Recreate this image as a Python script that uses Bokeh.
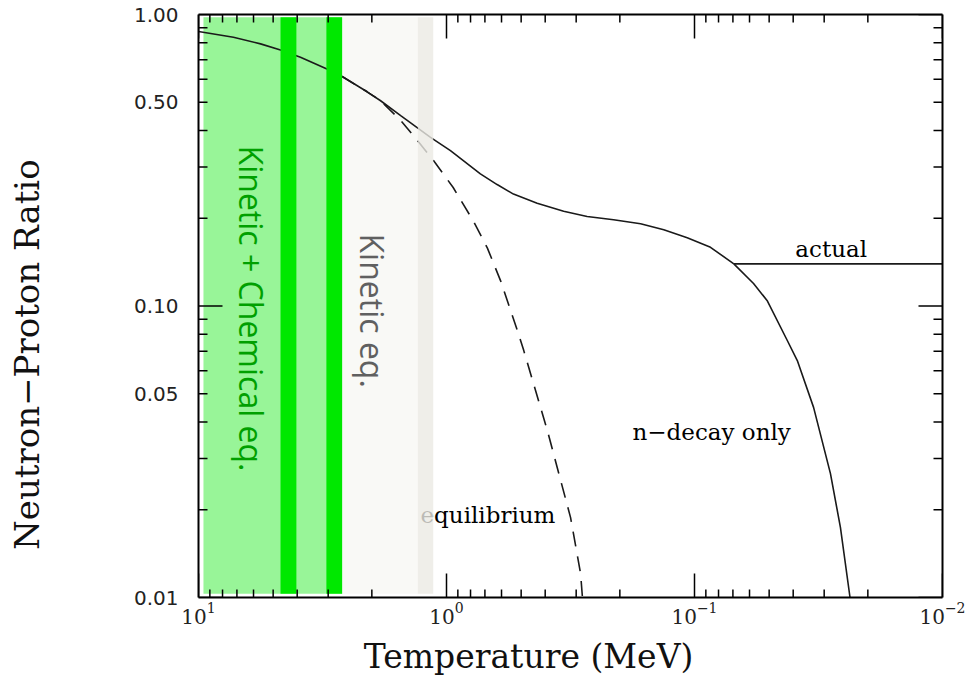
import numpy as np
from bokeh.plotting import figure
from bokeh.models import Range1d, LogAxis, FixedTicker, PrintfTickFormatter
from bokeh.embed import file_html
from bokeh.resources import INLINE
from bokeh.core.properties import value

# Temperature (MeV) and neutron-to-proton ratio
t_actual = [10.0, 7.23, 5.62, 4.67, 3.88, 3.05, 2.635, 2.09, 1.85, 1.53, 1.16, 0.964,
            0.73, 0.625, 0.537, 0.431, 0.337, 0.271, 0.212, 0.165, 0.133, 0.107,
            0.0862, 0.0694]
np_actual = [0.874, 0.836, 0.793, 0.756, 0.714, 0.651, 0.613, 0.543, 0.507, 0.450,
             0.379, 0.341, 0.284, 0.261, 0.242, 0.2253, 0.2114, 0.2028, 0.1976,
             0.1914, 0.1825, 0.1714, 0.159, 0.1395]

# frozen-out ratio after weak freeze-out
t_freeze = [0.0694, 0.01]
np_freeze = [0.1395, 0.1395]

# free neutron decay only
t_decay = [0.0694, 0.0578, 0.0508, 0.0422, 0.0385, 0.0331, 0.0283, 0.0258, 0.0236]
np_decay = [0.1395, 0.1195, 0.104, 0.076, 0.065, 0.0449, 0.0266, 0.0174, 0.01]

# equilibrium value
t_equil = [2.635, 2.09, 1.85, 1.53, 1.31, 1.13, 0.94, 0.78, 0.684, 0.605, 0.513,
           0.488, 0.392, 0.316, 0.288, 0.283]
np_equil = [0.613, 0.543, 0.507, 0.433, 0.37, 0.316, 0.255, 0.196, 0.158, 0.122,
            0.0805, 0.0703, 0.0374, 0.0188, 0.0121, 0.01]

# shaded temperature bands (MeV): (hot end, cool end)
chem_band = (9.55, 2.635)
chem_bars = [(4.67, 4.03), (3.05, 2.635)]
kin_band = (2.635, 1.305)
kin_edge = (1.305, 1.131)
band_bottom, band_top = 0.0103, 0.979

x_major = [10, 1, 0.1, 0.01]
y_major = [1.0, 0.5, 0.1, 0.05, 0.01]
y_decades = [1.0, 0.1, 0.01]
log_minor = [m * 10.0 ** k for k in (-2, -1, 0) for m in range(2, 10)]

W, H = 969, 679
BL, BR, BT, BB = 198, 27, 14, 82
x_lo, x_hi, y_lo, y_hi = 10.0, 0.01, 0.01, 1.0

p = figure(width=W, height=H, x_axis_type="log", y_axis_type="log",
           x_range=Range1d(x_lo, x_hi), y_range=Range1d(y_lo, y_hi),
           output_backend="svg", toolbar_location=None,
           min_border_left=BL, min_border_right=BR,
           min_border_top=BT, min_border_bottom=BB)
p.grid.visible = False
p.outline_line_color = None
p.background_fill_color = "white"
p.border_fill_color = "white"

# screen pixels per decade on each axis, used for tick lengths
px_dec_x = (W - BL - BR) / abs(np.log10(x_lo / x_hi))
px_dec_y = (H - BT - BB) / abs(np.log10(y_hi / y_lo))


def xf(px):
    return 10.0 ** (px / px_dec_x)


def yf(px):
    return 10.0 ** (px / px_dec_y)


# bands underneath the curves
p.quad(left=[chem_band[0]], right=[chem_band[1]], bottom=[band_bottom], top=[band_top],
       fill_color="#98F598", line_color=None)
p.quad(left=[kin_band[0]], right=[kin_band[1]], bottom=[band_bottom], top=[band_top],
       fill_color="#F9F9F6", line_color=None)

curve = dict(line_color="#1a1a1a", line_width=1.6)
p.line(t_actual, np_actual, **curve)
p.line(t_freeze, np_freeze, **curve)
p.line(t_decay, np_decay, **curve)
p.line(t_equil, np_equil, line_dash="15 10", **curve)

serif = value("DejaVu Serif")
note = dict(text_font=serif, text_font_size="23px", text_color="#000000",
            text_align="left", text_baseline="alphabetic")
p.text(x=[0.0392], y=[0.1565], text=["actual"], **note)
p.text(x=[0.1778], y=[0.0371], text=["n\u2212decay only"], **note)
p.text(x=[1.273], y=[0.0192], text=["equilibrium"], **note)

# opaque bars and translucent edge strip on top
for hot, cool in chem_bars:
    p.quad(left=[hot], right=[cool], bottom=[band_bottom], top=[band_top],
           fill_color="#00E800", line_color=None)
p.quad(left=[kin_edge[0]], right=[kin_edge[1]], bottom=[band_bottom], top=[band_top],
       fill_color="#EBEAE3", fill_alpha=0.8, line_color=None)

sans = value("Open Sans")
p.text(x=[6.13], y=[0.355], text=["Kinetic + Chemical eq."], angle=-np.pi / 2,
       text_font=sans, text_font_size="32px", text_color="#00A000",
       text_align="left", text_baseline="alphabetic")
p.text(x=[1.994], y=[0.1773], text=["Kinetic eq."], angle=-np.pi / 2,
       text_font=sans, text_font_size="32px", text_color="#606060",
       text_align="left", text_baseline="alphabetic")

# inward tick marks on all four sides of the frame
tick = dict(line_color="black", line_width=1.5)
x_all = [(t, 24) for t in x_major] + [(t, 8) for t in log_minor]
p.segment(x0=[t for t, _ in x_all], y0=[y_lo] * len(x_all),
          x1=[t for t, _ in x_all], y1=[y_lo * yf(L) for _, L in x_all], **tick)
p.segment(x0=[t for t, _ in x_all], y0=[y_hi] * len(x_all),
          x1=[t for t, _ in x_all], y1=[y_hi / yf(L) for _, L in x_all], **tick)
y_all = [(t, 24 if t in y_decades else 9) for t in y_major] + \
        [(t, 9) for t in log_minor if t not in y_major]
p.segment(x0=[x_lo] * len(y_all), y0=[t for t, _ in y_all],
          x1=[x_lo / xf(L) for _, L in y_all], y1=[t for t, _ in y_all], **tick)
p.segment(x0=[x_hi] * len(y_all), y0=[t for t, _ in y_all],
          x1=[x_hi * xf(L) for _, L in y_all], y1=[t for t, _ in y_all], **tick)

NBSP = "\u00a0"

xb = p.xaxis[0]
xb.ticker = FixedTicker(ticks=x_major, minor_ticks=log_minor)
xb.major_label_text_font = "DejaVu Serif"
xb.major_label_text_font_size = "20px"
xb.major_label_standoff = 4
xb.axis_label = "Temperature (MeV)" + NBSP * 8
xb.axis_label_text_font_size = "33px"
xb.axis_label_standoff = 10

yl = p.yaxis[0]
yl.ticker = FixedTicker(ticks=y_major, minor_ticks=log_minor)
yl.formatter = PrintfTickFormatter(format="%.2f")
yl.major_label_text_font = "DejaVu Sans"
yl.major_label_text_font_size = "20px"
yl.major_label_standoff = 20
yl.axis_label = "Neutron\u2212Proton Ratio" + NBSP * 9
yl.axis_label_text_font_size = "34px"
yl.axis_label_standoff = 84

xt = LogAxis(ticker=FixedTicker(ticks=x_major, minor_ticks=log_minor))
yr = LogAxis(ticker=FixedTicker(ticks=y_major, minor_ticks=log_minor))
for ax, ticks in ((xt, x_major), (yr, y_major)):
    ax.major_label_overrides = {t: "" for t in ticks}
    ax.major_label_text_font_size = "0px"
    ax.major_label_standoff = 0
p.add_layout(xt, "above")
p.add_layout(yr, "right")

for ax in (xb, xt, yl, yr):
    ax.major_tick_in = 0
    ax.minor_tick_in = 0
    ax.major_tick_out = 0
    ax.minor_tick_out = 0
    ax.axis_line_width = 2
    ax.axis_line_color = "black"
    ax.major_label_text_color = "#222222"
    ax.axis_label_text_font = "DejaVu Serif"
    ax.axis_label_text_font_style = "normal"
    ax.axis_label_text_color = "#111111"

open("out.html", "w").write(file_html(p, INLINE))
